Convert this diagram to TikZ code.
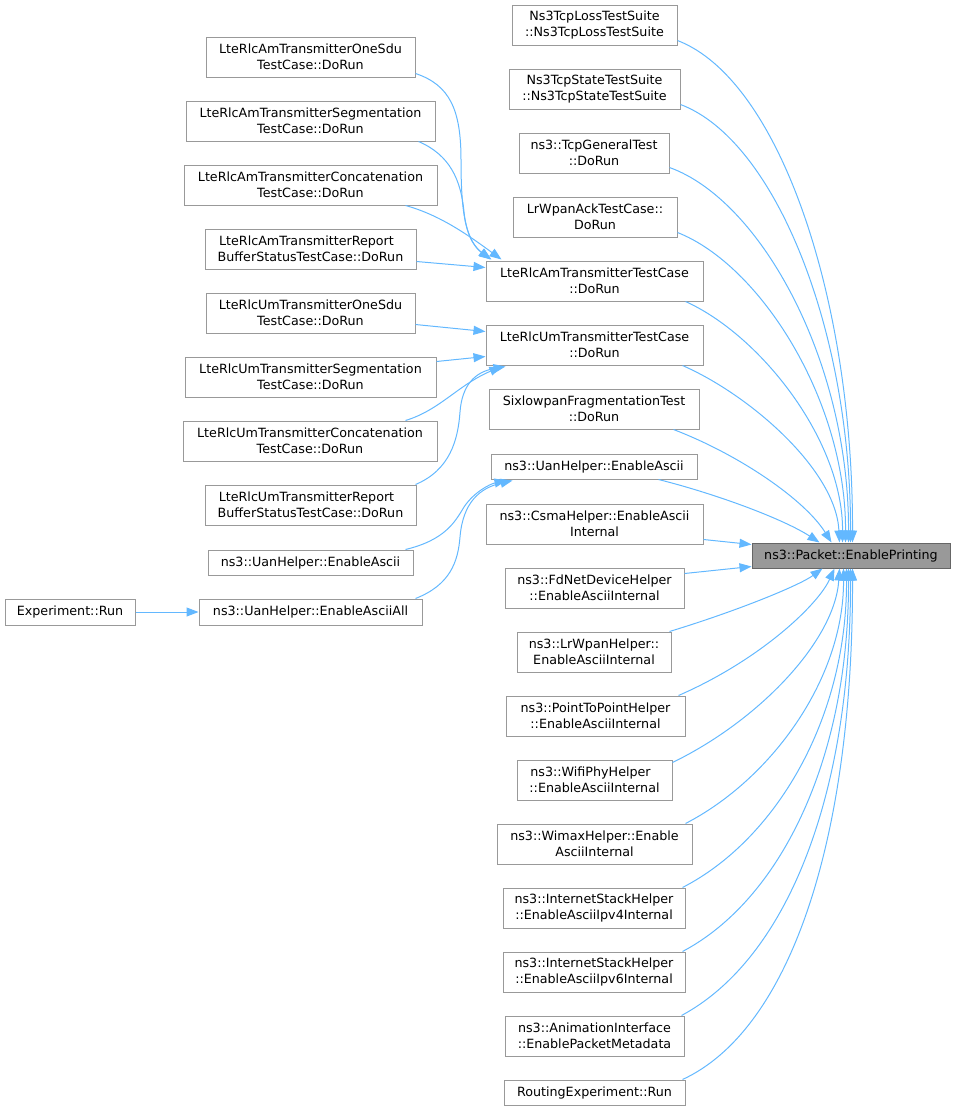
\documentclass[tikz,border=0pt]{standalone}
\usepackage{fontspec}
\setmainfont{DejaVu Sans}
\usetikzlibrary{arrows.meta,calc}
\definecolor{edgeblue}{HTML}{63B8FF}
\definecolor{boxgray}{HTML}{999999}
\definecolor{tgtfill}{HTML}{999999}
\definecolor{tgtdraw}{HTML}{666666}
\newcommand\gbox[7][]{\node[gnode,#1,minimum width={(#5-#3)*1pt},minimum height={(#6-#4)*1pt}] (#2) at ({(#3+#5)/2},{(#4+#6)/2}) {#7};}
\tikzset{
  gnode/.style={draw=boxgray, fill=white, line width=1pt, inner sep=0pt, align=center,
    font=\fontsize{12.7}{15.6}\selectfont},
  tgtnode/.style={draw=tgtdraw, fill=tgtfill},
  calledge/.style={draw=edgeblue, line width=1pt, -{Triangle[length=12pt,width=9pt]}}
}
\begin{document}
\begin{tikzpicture}[x=1pt,y=-1pt]
\useasboundingbox (0,0) rectangle (957,1111);
% target
\gbox[tgtnode]{tgt}{752}{543}{950}{568}{ns3::Packet::EnablePrinting}
% middle column
\gbox{loss}{512}{5}{677}{45}{Ns3TcpLossTestSuite\\::Ns3TcpLossTestSuite}
\gbox{state}{509}{69}{680}{109}{Ns3TcpStateTestSuite\\::Ns3TcpStateTestSuite}
\gbox{tcpgen}{519}{133}{669}{173}{ns3::TcpGeneralTest\\::DoRun}
\gbox{lrack}{513}{197}{677}{237}{LrWpanAckTestCase::\\DoRun}
\gbox{amtc}{486}{261}{703}{301}{LteRlcAmTransmitterTestCase\\::DoRun}
\gbox{umtc}{486}{325}{703}{365}{LteRlcUmTransmitterTestCase\\::DoRun}
\gbox{sixlo}{489}{389}{699}{429}{SixlowpanFragmentationTest\\::DoRun}
\gbox{uanm}{491}{454}{697}{479}{ns3::UanHelper::EnableAscii}
\gbox{csma}{486}{504}{703}{544}{ns3::CsmaHelper::EnableAscii\\Internal}
\gbox{fdnet}{505}{568}{684}{608}{ns3::FdNetDeviceHelper\\::EnableAsciiInternal}
\gbox{lrwpanh}{517}{632}{671}{672}{ns3::LrWpanHelper::\\EnableAsciiInternal}
\gbox{ptp}{506}{696}{685}{736}{ns3::PointToPointHelper\\::EnableAsciiInternal}
\gbox{wifi}{517}{760}{672}{800}{ns3::WifiPhyHelper\hspace*{8pt}\\::EnableAsciiInternal}
\gbox{wimax}{497}{824}{692}{864}{ns3::WimaxHelper::Enable\\AsciiInternal}
\gbox{ipvfour}{503}{888}{685}{928}{ns3::InternetStackHelper\\::EnableAsciiIpv4Internal}
\gbox{ipvsix}{503}{952}{685}{992}{ns3::InternetStackHelper\\::EnableAsciiIpv6Internal}
\gbox{anim}{505}{1016}{684}{1056}{ns3::AnimationInterface\\::EnablePacketMetadata}
\gbox{routing}{504}{1080}{685}{1105}{RoutingExperiment::Run}
% left column
\gbox{amone}{206}{37}{415}{77}{LteRlcAmTransmitterOneSdu\\TestCase::DoRun}
\gbox{amseg}{186}{101}{435}{141}{LteRlcAmTransmitterSegmentation\\TestCase::DoRun}
\gbox{amcat}{184}{165}{437}{205}{LteRlcAmTransmitterConcatenation\\TestCase::DoRun}
\gbox{amrep}{205}{229}{416}{269}{LteRlcAmTransmitterReport\hspace*{8pt}\\BufferStatusTestCase::DoRun}
\gbox{umone}{206}{293}{415}{333}{LteRlcUmTransmitterOneSdu\\TestCase::DoRun}
\gbox{umseg}{185}{357}{436}{397}{LteRlcUmTransmitterSegmentation\\TestCase::DoRun}
\gbox{umcat}{183}{421}{437}{461}{LteRlcUmTransmitterConcatenation\\TestCase::DoRun}
\gbox{umrep}{205}{485}{416}{525}{LteRlcUmTransmitterReport\hspace*{8pt}\\BufferStatusTestCase::DoRun}
\gbox{uanl}{208}{550}{413}{575}{ns3::UanHelper::EnableAscii}
\gbox{uanall}{199}{599}{422}{625}{ns3::UanHelper::EnableAsciiAll}
\gbox{exp}{5}{599}{135}{625}{Experiment::Run}
% edges: left column
\draw[calledge] ($(amone.south east)+(0,-4)$) .. controls (450,85) and (461,110) .. (461,160) .. controls (461,215) and (466,240) .. ($(amtc.north west)+(5,-1)$);
\draw[calledge] ($(amseg.south east)+(-17,0)$) .. controls (450,155) and (461,180) .. (464,212) .. controls (467,240) and (478,250) .. ($(amtc.north west)+(6,-1)$);
\draw[calledge] ($(amcat.south east)+(-32,0)$) .. controls (440,215) and (468,235) .. ($(amtc.north west)+(16,-1)$);
\draw[calledge] ($(amrep.north east)+(0,33)$) -- ($(amtc.north west)+(0,7)$);
\draw[calledge] ($(umone.north east)+(0,32)$) -- ($(umtc.north west)+(0,7)$);
\draw[calledge] ($(umseg.north east)+(0,5)$) -- ($(umtc.north west)+(0,32)$);
\draw[calledge] ($(umcat.north east)+(-32,0)$) .. controls (440,410) and (458,385) .. ($(umtc.south west)+(16,1)$);
\draw[calledge] ($(umrep.north east)+(-1,0)$) .. controls (450,470) and (458,440) .. (460,412) .. controls (462,385) and (475,372) .. ($(umtc.south west)+(20,1)$);
\draw[calledge] ($(uanl.north east)+(-8,0)$) .. controls (445,540) and (455,522) .. (464,507) .. controls (474,492) and (490,484) .. ($(uanm.south west)+(16,1)$);
\draw[calledge] ($(uanall.north east)+(-7,0)$) .. controls (450,585) and (458,562) .. (460,537) .. controls (463,502) and (480,488) .. ($(uanm.south west)+(22,1)$);
\draw[calledge] (exp) -- (uanall);
% edges: middle column to target (top)
\draw[calledge] ($(loss.south east)+(0,-5)$) .. controls (780,80) and (853,300) .. ($(tgt.north west)+(101,0)$);
\draw[calledge] ($(state.south east)+(0,-5)$) .. controls (775,140) and (851,330) .. ($(tgt.north west)+(99,0)$);
\draw[calledge] ($(tcpgen.south east)+(0,-6)$) .. controls (760,200) and (849,360) .. ($(tgt.north west)+(97,0)$);
\draw[calledge] ($(lrack.south east)+(0,-5)$) .. controls (760,265) and (846,400) .. ($(tgt.north west)+(94,0)$);
\draw[calledge] ($(amtc.south east)+(-18,0)$) .. controls (760,335) and (843,440) .. ($(tgt.north west)+(91,0)$);
\draw[calledge] ($(umtc.south east)+(-21,0)$) .. controls (750,395) and (836,470) .. ($(tgt.north west)+(88,0)$);
\draw[calledge] ($(sixlo.south east)+(-26,0)$) .. controls (740,455) and (805,500) .. ($(tgt.north west)+(80,0)$);
\draw[calledge] ($(uanm.south east)+(-39,0)$) .. controls (720,495) and (785,520) .. ($(tgt.north west)+(68,0)$);
\draw[calledge] ($(csma.south east)+(0,-5)$) -- ($(tgt.north west)+(0,2)$);
% edges: middle column to target (bottom)
\draw[calledge] ($(fdnet.north east)+(0,6)$) -- ($(tgt.south west)+(0,-2)$);
\draw[calledge] ($(lrwpanh.north east)+(-2,0)$) .. controls (740,610) and (800,585) .. ($(tgt.south west)+(71,0)$);
\draw[calledge] ($(ptp.north east)+(-7,0)$) .. controls (760,660) and (818,605) .. ($(tgt.south west)+(83,0)$);
\draw[calledge] ($(wifi.north east)+(0,3)$) .. controls (760,720) and (835,640) .. ($(tgt.south west)+(88,0)$);
\draw[calledge] ($(wimax.north east)+(-7,0)$) .. controls (770,780) and (844,680) .. ($(tgt.south west)+(92,0)$);
\draw[calledge] ($(ipvfour.north east)+(-3,0)$) .. controls (775,840) and (847,720) .. ($(tgt.south west)+(95,0)$);
\draw[calledge] ($(ipvsix.north east)+(-3,0)$) .. controls (780,900) and (849,760) .. ($(tgt.south west)+(97,0)$);
\draw[calledge] ($(anim.north east)+(-3,0)$) .. controls (785,960) and (851,800) .. ($(tgt.south west)+(99,0)$);
\draw[calledge] ($(routing.north east)+(-3,0)$) .. controls (790,1030) and (853,840) .. ($(tgt.south west)+(101,0)$);
\end{tikzpicture}
\end{document}
